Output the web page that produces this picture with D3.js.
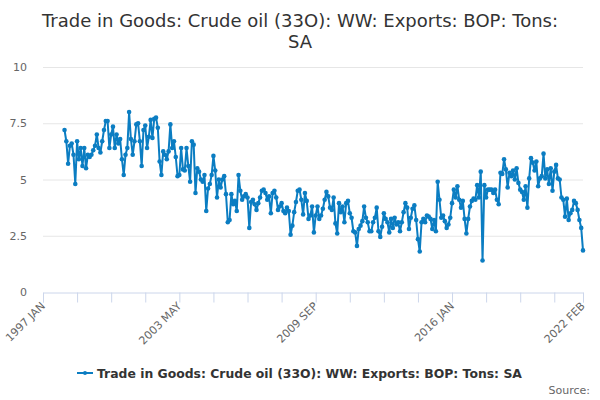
<!DOCTYPE html>
<html>
<head>
<meta charset="utf-8">
<script src="https://cdn.jsdelivr.net/npm/d3@7"></script>
<style>
  body { margin: 0; background: #fff; }
  svg { font-family: "DejaVu Sans", sans-serif; }
</style>
</head>
<body>
<svg width="600" height="400"></svg>
<script>
const title = ["Trade in Goods: Crude oil (33O): WW: Exports: BOP: Tons:", "SA"];
const seriesName = "Trade in Goods: Crude oil (33O): WW: Exports: BOP: Tons: SA";

// axis runs 1997 JAN .. 2022 FEB, data starts 1998 JAN
const monthNames = ["JAN","FEB","MAR","APR","MAY","JUN","JUL","AUG","SEP","OCT","NOV","DEC"];
const axisStart = {year: 1997, month: 0};
const axisEnd = {year: 2022, month: 1};
const dataStart = {year: 1998, month: 0};
const tickStep = 19;
const yTicks = [0, 2.5, 5, 7.5, 10];

const v1998 = [7.2, 6.7, 5.7, 6.5, 6.6, 6.1, 4.8, 6.7, 5.9, 6.4, 5.6, 6.4];
const v1999 = [5.5, 6.1, 6.0, 6.1, 6.3, 6.5, 7.0, 6.4, 6.2, 6.7, 7.2, 7.6];
const v2000 = [7.6, 6.4, 7.0, 7.35, 6.4, 7.0, 6.6, 6.8, 5.9, 5.2, 6.1, 6.4];
const v2001 = [8.0, 6.8, 6.1, 6.7, 7.45, 7.5, 6.7, 5.6, 7.2, 7.4, 6.4, 6.9];
const v2002 = [7.65, 6.85, 7.7, 7.75, 7.3, 5.8, 5.2, 6.25, 6.1, 5.9, 6.25, 7.45];
const v2003 = [6.4, 6.7, 6.0, 5.15, 5.2, 6.4, 5.45, 5.4, 6.4, 5.6, 4.9, 6.7];
const v2004 = [6.55, 4.4, 5.5, 5.35, 5.0, 4.9, 5.2, 3.6, 4.6, 4.8, 5.2, 6.05];
const v2005 = [5.4, 4.2, 5.0, 4.65, 5.0, 5.15, 4.35, 3.1, 3.2, 4.35, 3.9, 4.05];
const v2006 = [3.6, 5.2, 4.5, 4.1, 4.25, 4.35, 4.2, 2.85, 4.0, 4.1, 3.9, 3.65];
const v2007 = [3.95, 4.2, 4.5, 4.55, 4.4, 4.1, 4.25, 3.5, 4.4, 4.5, 4.2, 3.65];
const v2008 = [3.8, 3.95, 3.6, 3.5, 3.75, 3.6, 2.55, 2.95, 3.55, 4.0, 4.5, 4.55];
const v2009 = [4.1, 3.45, 4.4, 4.05, 3.25, 3.4, 3.8, 2.65, 3.4, 3.8, 3.25, 3.4];
const v2010 = [3.7, 4.1, 4.45, 4.25, 3.75, 3.65, 4.2, 3.05, 2.6, 3.95, 3.55, 3.8];
const v2011 = [3.1, 3.95, 4.05, 3.5, 3.3, 2.7, 2.65, 2.05, 2.8, 2.95, 3.15, 3.8];
const v2012 = [3.3, 3.1, 2.7, 2.7, 3.1, 3.3, 3.75, 2.7, 2.45, 2.9, 3.5, 3.25];
const v2013 = [3.1, 2.65, 3.25, 2.85, 3.3, 3.0, 3.1, 2.7, 3.1, 3.55, 3.95, 3.75];
const v2014 = [2.8, 3.3, 3.7, 3.85, 3.2, 2.35, 1.8, 3.1, 3.25, 3.1, 3.4, 3.35];
const v2015 = [3.25, 2.8, 3.2, 2.7, 4.9, 4.1, 3.3, 3.4, 3.15, 2.85, 3.0, 3.3];
const v2016 = [3.95, 4.55, 4.2, 4.7, 4.1, 3.75, 4.05, 3.25, 2.6, 3.25, 3.8, 4.05];
const v2017 = [4.15, 4.1, 4.75, 4.2, 5.35, 1.4, 4.75, 4.2, 4.55, 4.55, 4.55, 4.4];
const v2018 = [4.55, 4.1, 3.9, 5.3, 5.25, 5.9, 5.45, 4.65, 5.3, 5.15, 5.4, 5.0];
const v2019 = [5.5, 4.85, 4.55, 4.45, 4.1, 4.7, 3.75, 5.05, 5.95, 5.75, 5.4, 5.8];
const v2020 = [4.7, 5.05, 5.15, 6.15, 5.05, 5.45, 4.8, 5.5, 4.5, 5.35, 5.65, 5.05];
const v2021 = [5.0, 4.2, 4.1, 3.35, 4.15, 3.2, 3.5, 3.65, 4.05, 3.95, 3.65, 3.2];
const v2022 = [2.85, 1.85];

const values = [].concat(v1998, v1999, v2000, v2001, v2002, v2003, v2004, v2005,
  v2006, v2007, v2008, v2009, v2010, v2011, v2012, v2013, v2014, v2015, v2016,
  v2017, v2018, v2019, v2020, v2021, v2022);

const monthIndex = (d) => (d.year - axisStart.year) * 12 + d.month - axisStart.month;
const lastIdx = monthIndex(axisEnd);
const firstData = monthIndex(dataStart);
const categories = d3.range(0, lastIdx + 1).map(i => {
  const y = axisStart.year + Math.floor((axisStart.month + i) / 12);
  return y + " " + monthNames[(axisStart.month + i) % 12];
});
const points = values.map((v, i) => ({i: firstData + i, v: v}));

const svg = d3.select("svg");
const margin = {left: 43, right: 17, top: 67, bottom: 108};
const W = 600, H = 400;

const x = d3.scaleLinear().domain([0, lastIdx]).range([margin.left, W - margin.right]);
const y = d3.scaleLinear().domain([0, 10]).range([H - margin.bottom, margin.top]);

// title
svg.append("text")
  .attr("x", W / 2).attr("y", 27)
  .attr("text-anchor", "middle")
  .attr("fill", "#333").style("font-size", "18px")
  .selectAll("tspan").data(title).enter().append("tspan")
  .attr("x", W / 2).attr("dy", (d, i) => i ? 21 : 0)
  .text(d => d);

// grid
svg.append("g").selectAll("line").data(yTicks.filter(t => t > 0)).enter().append("line")
  .attr("x1", margin.left).attr("x2", W - margin.right)
  .attr("y1", d => y(d) + 0.5).attr("y2", d => y(d) + 0.5)
  .attr("stroke", "#e6e6e6");

// y labels
svg.append("g").selectAll("text").data(yTicks).enter().append("text")
  .attr("x", 27).attr("y", d => y(d) + 4)
  .attr("text-anchor", "end")
  .attr("fill", "#666").style("font-size", "11px")
  .text(d => d);

// x axis
const tickVals = d3.range(0, lastIdx, tickStep).concat([lastIdx]);
const labelVals = tickVals.filter((t, k) => k % 4 === 0 || t === lastIdx);
const xAxis = d3.axisBottom(x)
  .tickValues(tickVals)
  .tickSize(10)
  .tickFormat(d => labelVals.includes(d) ? categories[d] : "");
const gx = svg.append("g")
  .attr("transform", `translate(0,${y(0) + 0.5})`)
  .call(xAxis);
gx.select(".domain").attr("stroke", "#ccd6eb");
gx.selectAll(".tick line").attr("stroke", "#ccd6eb");
gx.selectAll(".tick text")
  .attr("fill", "#666").style("font-size", "11px")
  .style("font-family", "DejaVu Sans, sans-serif")
  .attr("text-anchor", "end")
  .attr("transform", "translate(-9,3) rotate(-45)")
  .attr("dy", "0.35em").attr("y", 12).attr("x", 0);

// series
const line = d3.line().x(d => x(d.i)).y(d => y(d.v));
const blue = "#0b7dc2";
svg.append("path").datum(points)
  .attr("d", line).attr("fill", "none")
  .attr("stroke", blue).attr("stroke-width", 2)
  .attr("stroke-linejoin", "round");
svg.append("g").selectAll("circle").data(points).enter().append("circle")
  .attr("cx", d => x(d.i)).attr("cy", d => y(d.v)).attr("r", 2.3)
  .attr("fill", blue);

// legend
const lg = svg.append("g").attr("transform", "translate(0,373)");
lg.append("line").attr("x1", 77).attr("x2", 93).attr("y1", 0).attr("y2", 0)
  .attr("stroke", blue).attr("stroke-width", 2);
lg.append("circle").attr("cx", 85).attr("cy", 0).attr("r", 2).attr("fill", blue);
lg.append("text").attr("x", 97).attr("y", 4.5)
  .attr("fill", "#333").style("font-size", "12.4px").style("font-weight", "bold")
  .text(seriesName);

svg.append("text").attr("x", 590).attr("y", 394)
  .attr("text-anchor", "end").attr("fill", "#666").style("font-size", "11px")
  .text("Source:");
</script>
</body>
</html>
